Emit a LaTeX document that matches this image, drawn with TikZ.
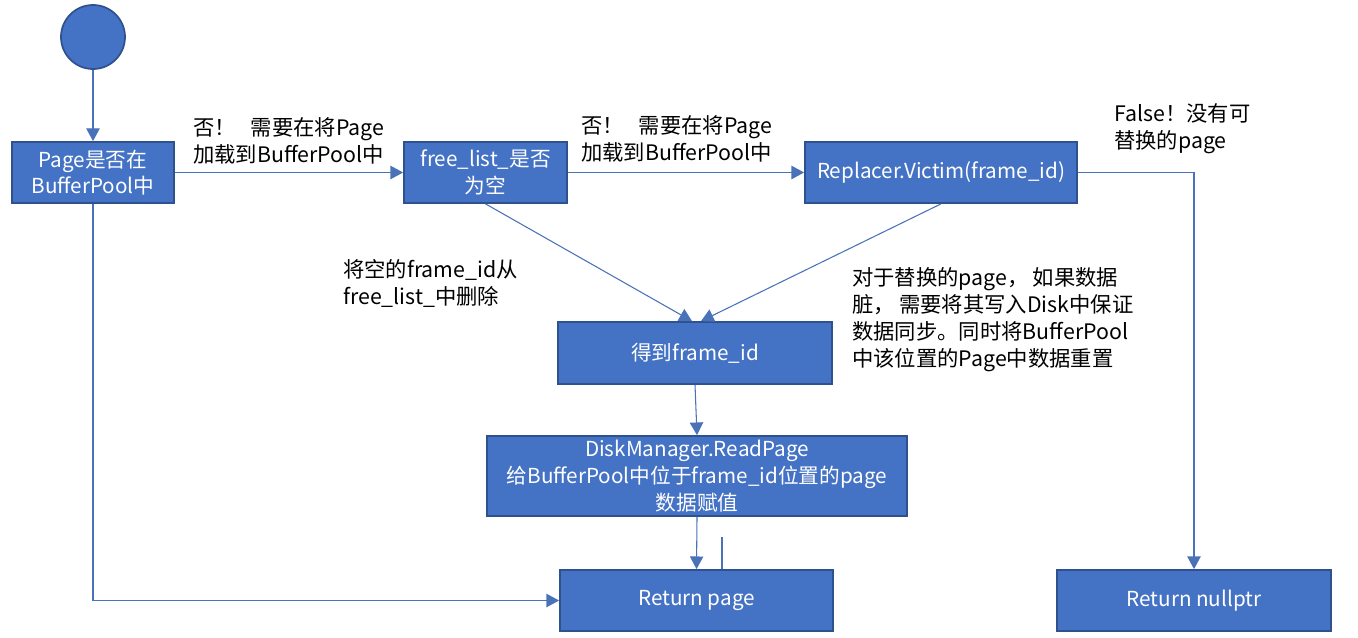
\documentclass[tikz,border=0pt]{standalone}
\usepackage{fontspec}
\setmainfont{Noto Sans CJK SC}
\usetikzlibrary{arrows.meta,calc}
\definecolor{boxfill}{HTML}{4472C4}
\definecolor{boxline}{HTML}{2F528F}
\definecolor{conn}{HTML}{4A72B8}
\tikzset{
  box/.style={rectangle, fill=boxfill, draw=boxline, line width=1.3pt, text=white, align=center, inner sep=0pt, font=\fontsize{15.5}{20}\selectfont},
  startnode/.style={circle, fill=boxfill, draw=boxline, line width=1.3pt, minimum size=48pt, inner sep=0pt},
  lbl/.style={anchor=west, align=left, inner sep=0pt, text=black, font=\fontsize{16}{20.25}\selectfont},
  conn/.style={draw=conn, line width=0.8pt},
  arr/.style={conn, -{Triangle[length=9.5pt,width=10pt]}}
}
\begin{document}
\begin{tikzpicture}[x=0.75pt,y=-0.75pt]
\useasboundingbox (0,0) rectangle (1358,638);
\node[startnode] (c) at (93,37) {};
\node[box, minimum width=121.5pt, minimum height=45.75pt] (b1) at (93,172.5) {Page是否在\\BufferPool中};
\node[box, minimum width=122.25pt, minimum height=45.75pt] (b2) at (485.5,172.5) {free\_list\_是否\\为空};
\node[box, minimum width=204pt, minimum height=45.75pt] (b3) at (941,172.5) {Replacer.Victim(frame\_id)};
\node[box, minimum width=205.5pt, minimum height=46.5pt] (b4) at (695,353) {得到frame\_id};
\node[box, minimum width=315pt, minimum height=60pt] (b5) at (697,476) {DiskManager.ReadPage\\给BufferPool中位于frame\_id位置的page\\数据赋值};
\node[box, minimum width=204.75pt, minimum height=45.75pt] (b6) at (696.5,600.5) {Return page};
\node[box, minimum width=205.5pt, minimum height=45.75pt] (b7) at (1194,600.5) {Return nullptr};

\node[lbl] (l1) at (193,141) {否！\hspace{0.7em}需要在将Page\\加载到BufferPool中};
\node[lbl] (l2) at (581,139) {否！\hspace{0.7em}需要在将Page\\加载到BufferPool中};
\node[lbl] (l3) at (1114,129) {False！没有可\\替换的page};
\node[lbl] (l4) at (343,283) {将空的frame\_id从\\free\_list\_中删除};
\node[lbl] (l5) at (852,320) {对于替换的page，\hspace{0.2em}如果数据\\脏，\hspace{0.2em}需要将其写入Disk中保证\\数据同步。同时将BufferPool\\中该位置的Page中数据重置};

\coordinate (s) at (722,537);

\draw[arr] (c) -- (b1);
\draw[arr] (b1.east) -- (b2.west);
\draw[arr] (b2.east) -- (b3.west);
\draw[arr] (b3.east) -| (b7.north);
\draw[arr] (b2.south) -- ([xshift=-2.25pt]b4.north);
\draw[arr] (b3.south) -- ([xshift=4.5pt]b4.north);
\draw[arr] (b4.south) -- (b5.north);
\draw[arr] (b5.south) -- (b6.north);
\draw[conn] (s) -- (s |- b6.north);
\draw[arr] (b1.south) |- (b6.west);
\end{tikzpicture}
\end{document}
